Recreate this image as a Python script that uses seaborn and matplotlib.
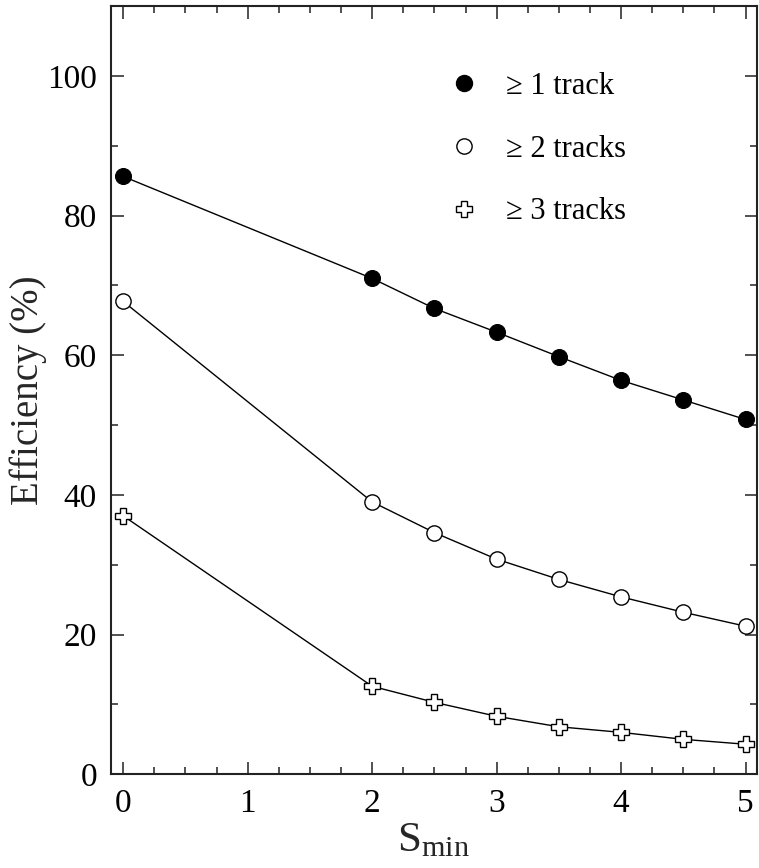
import matplotlib
matplotlib.use("Agg")
import matplotlib.pyplot as plt
import seaborn as sns
import pandas as pd
from matplotlib.lines import Line2D
from matplotlib.ticker import MultipleLocator

s_min = [0, 2, 2.5, 3, 3.5, 4, 4.5, 5]
eff_1 = [85.6, 71.0, 66.7, 63.3, 59.8, 56.4, 53.6, 50.8]
eff_2 = [67.7, 39.0, 34.6, 30.8, 27.9, 25.4, 23.2, 21.2]
eff_3 = [37.0, 12.6, 10.3, 8.3, 6.8, 6.0, 5.0, 4.3]
labels = ["\u2265 1 track", "\u2265 2 tracks", "\u2265 3 tracks"]

sns.set_theme(style="ticks")
plt.rcParams['font.family'] = ['Liberation Serif', 'DejaVu Serif']
plt.rcParams['mathtext.fontset'] = 'custom'
plt.rcParams['mathtext.rm'] = 'Liberation Serif'

fig = plt.figure(figsize=(7.59, 8.68), dpi=100)
ax = fig.add_axes([0.146, 0.108, 0.851, 0.885])

styles = [
    dict(marker='o', markersize=11.5, markerfacecolor='black', markeredgecolor='black'),
    dict(marker='o', markersize=11, markerfacecolor='white', markeredgecolor='black', markeredgewidth=1.0),
    dict(marker='P', markersize=11, markerfacecolor='white', markeredgecolor='black', markeredgewidth=1.0),
]

handles = []
for vals, lab, st in zip([eff_1, eff_2, eff_3], labels, styles):
    df = pd.DataFrame({"x": s_min, "y": vals})
    sns.lineplot(data=df, x="x", y="y", ax=ax, color='black', linewidth=1.0,
                 legend=False, **st)
    handles.append(Line2D([], [], linestyle='none', **st, label=lab))

ax.set_xlim(-0.1, 5.09)
ax.set_ylim(0, 110)
ax.xaxis.set_major_locator(MultipleLocator(1))
ax.xaxis.set_minor_locator(MultipleLocator(0.25))
ax.yaxis.set_major_locator(MultipleLocator(20))
ax.yaxis.set_minor_locator(MultipleLocator(10))
ax.tick_params(which='both', direction='in', top=True, right=True, labelsize=24,
               width=1.2, color='#333333', labelcolor='black')
ax.tick_params(which='major', length=9, pad=10)
ax.tick_params(which='minor', length=5)
for sp in ax.spines.values():
    sp.set_linewidth(1.5)
    sp.set_color('#222222')

ax.set_xlabel(r'$\mathrm{S_{min}}$', fontsize=31, labelpad=2)
ax.set_ylabel('Efficiency (%)', fontsize=28, labelpad=0)

ax.legend(handles=handles, loc='upper left', bbox_to_anchor=(0.48, 0.946),
          frameon=False, fontsize=22, handletextpad=0.8, labelspacing=1.1,
          handlelength=1.2, borderpad=0.3, labelcolor='black')

fig.savefig("out.png", dpi=100)
